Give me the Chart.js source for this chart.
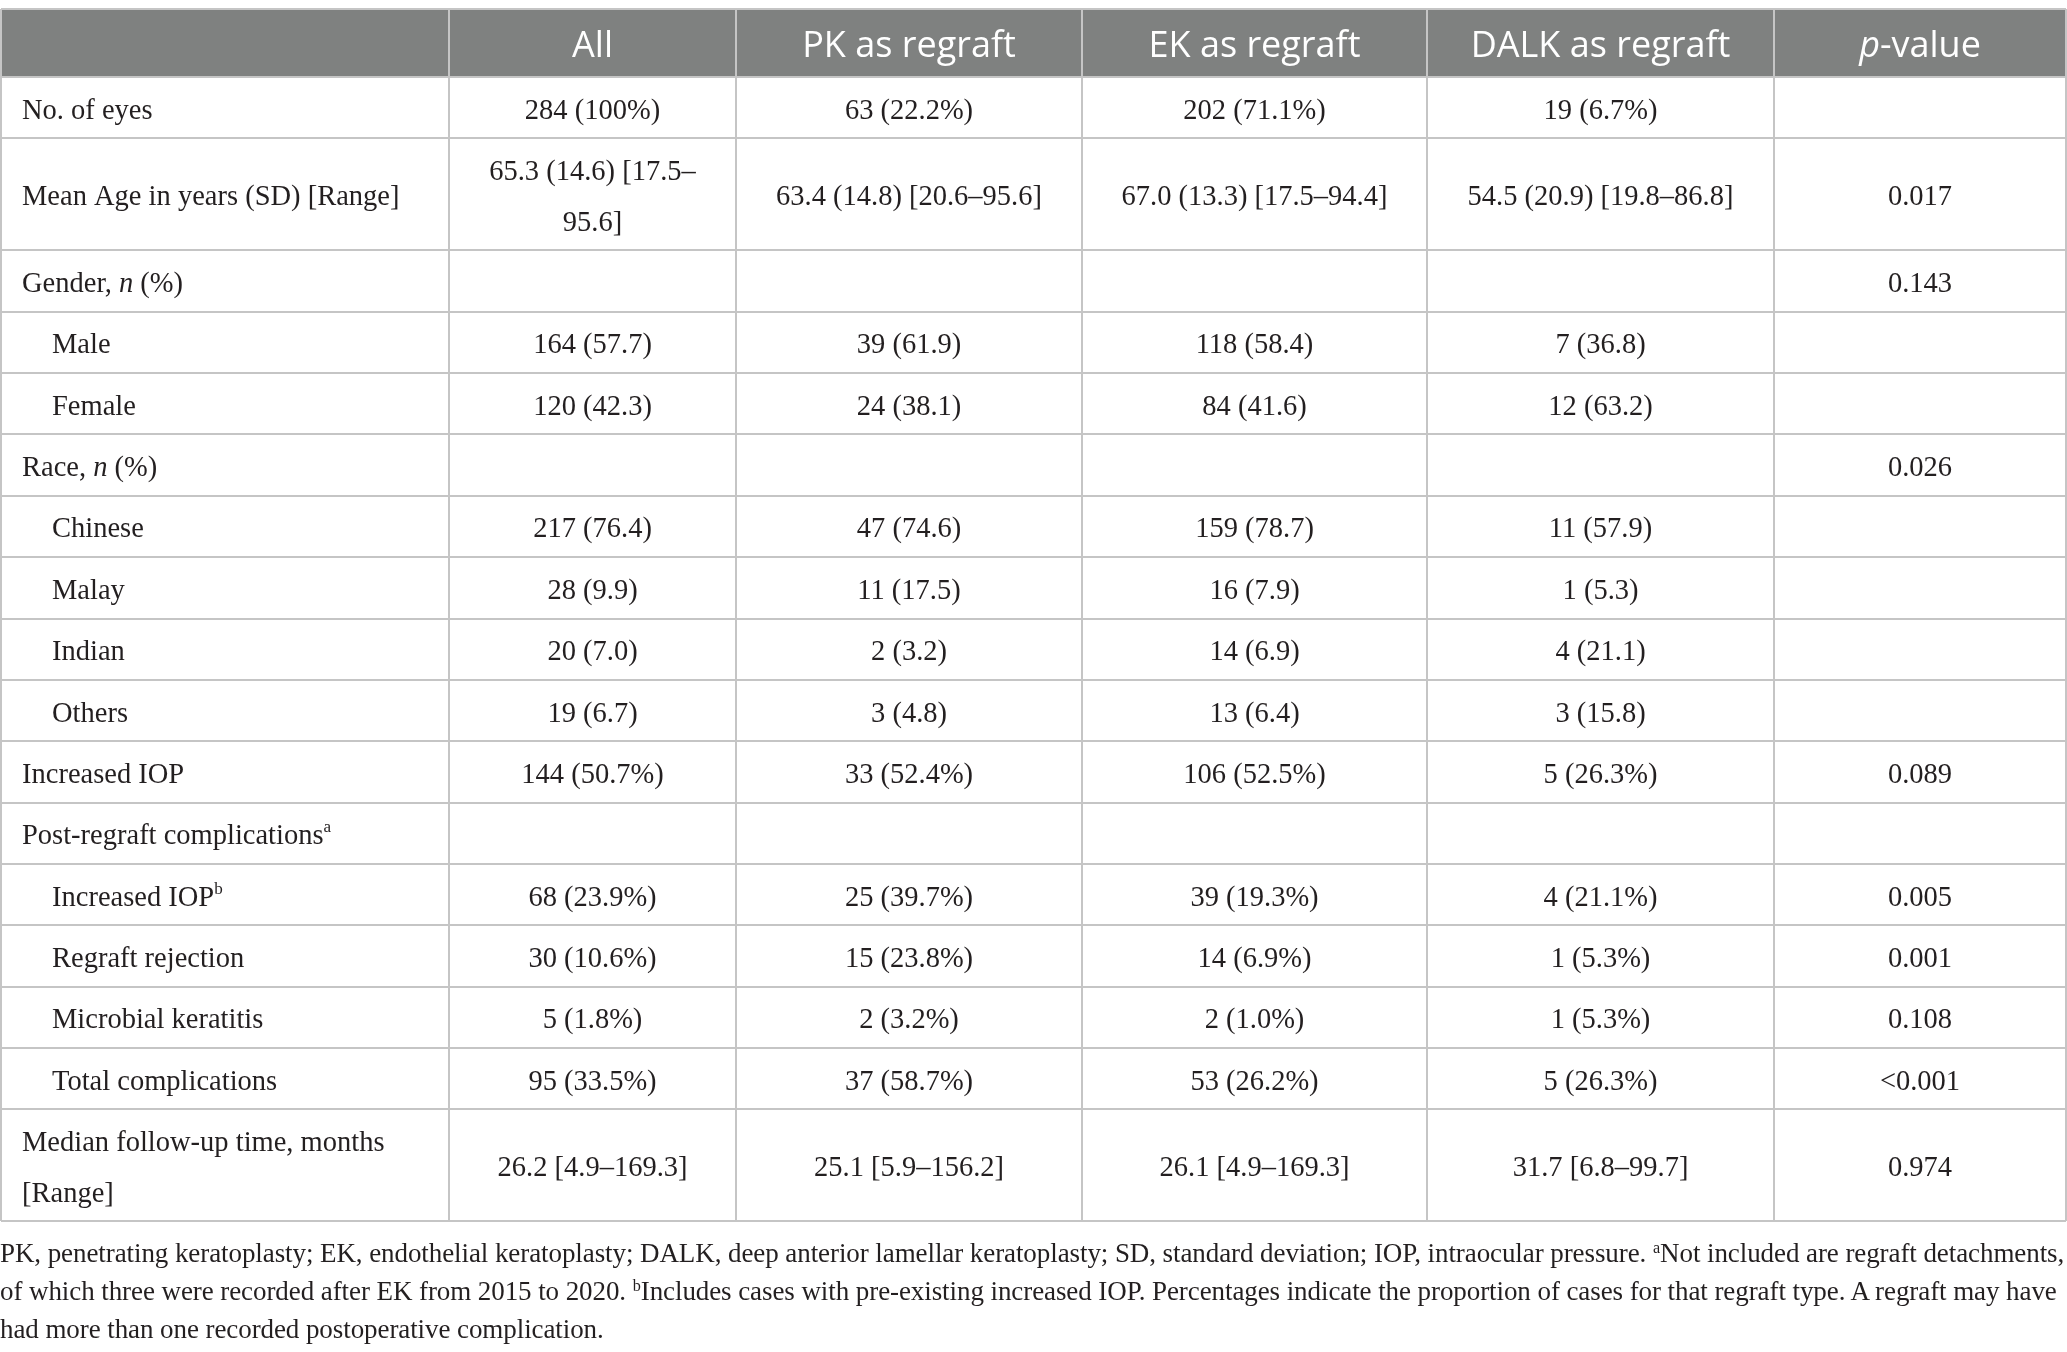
<!DOCTYPE html>
<html>
<head>
<meta charset="utf-8">
<title>Regraft characteristics</title>
<script src="https://cdn.jsdelivr.net/npm/chart.js@4.4.0/dist/chart.umd.min.js"></script>
<style>
    html, body { margin: 0; padding: 0; background: #fff; }
    #wrap { position: relative; width: 2067px; height: 1352px; overflow: hidden; }
    #tableChart { position: absolute; left: 0; top: 0; }
    #notes {
        position: absolute; left: 0; top: 1234px; width: 2067px;
        font-family: 'Liberation Serif', serif; font-size: 27px; line-height: 38px;
        letter-spacing: -0.08px; color: #231f20; white-space: nowrap;
    }
    #notes sup { font-size: 60%; line-height: 0; vertical-align: 0.55em; }
</style>
</head>
<body>
<div id="wrap">
    <canvas id="tableChart" width="2067" height="1352"></canvas>
    <div id="notes">
        PK, penetrating keratoplasty; EK, endothelial keratoplasty; DALK, deep anterior lamellar keratoplasty; SD, standard deviation; IOP, intraocular pressure. <sup>a</sup>Not included are regraft detachments,<br>
        of which three were recorded after EK from 2015 to 2020. <sup>b</sup>Includes cases with pre-existing increased IOP. Percentages indicate the proportion of cases for that regraft type. A regraft may have<br>
        had more than one recorded postoperative complication.
    </div>
</div>
<script>
// Table data (*x* = italic, ^x = superscript, \n = line break)
const colHeaders = ['', 'All', 'PK as regraft', 'EK as regraft', 'DALK as regraft', '*p*-value'];

const rowLabels = [
    'No. of eyes',
    'Mean Age in years (SD) [Range]',
    'Gender, *n* (%)',
    'Male',
    'Female',
    'Race, *n* (%)',
    'Chinese',
    'Malay',
    'Indian',
    'Others',
    'Increased IOP',
    'Post-regraft complications^a',
    'Increased IOP^b',
    'Regraft rejection',
    'Microbial keratitis',
    'Total complications',
    'Median follow-up time, months\n[Range]'
];

const subRows = [false, false, false, true, true, false, true, true, true, true, false, false, true, true, true, true, false];

const allValues = ['284 (100%)', '65.3 (14.6) [17.5–\n95.6]', '', '164 (57.7)', '120 (42.3)', '', '217 (76.4)', '28 (9.9)',
    '20 (7.0)', '19 (6.7)', '144 (50.7%)', '', '68 (23.9%)', '30 (10.6%)', '5 (1.8%)', '95 (33.5%)', '26.2 [4.9–169.3]'];
const pkValues = ['63 (22.2%)', '63.4 (14.8) [20.6–95.6]', '', '39 (61.9)', '24 (38.1)', '', '47 (74.6)', '11 (17.5)',
    '2 (3.2)', '3 (4.8)', '33 (52.4%)', '', '25 (39.7%)', '15 (23.8%)', '2 (3.2%)', '37 (58.7%)', '25.1 [5.9–156.2]'];
const ekValues = ['202 (71.1%)', '67.0 (13.3) [17.5–94.4]', '', '118 (58.4)', '84 (41.6)', '', '159 (78.7)', '16 (7.9)',
    '14 (6.9)', '13 (6.4)', '106 (52.5%)', '', '39 (19.3%)', '14 (6.9%)', '2 (1.0%)', '53 (26.2%)', '26.1 [4.9–169.3]'];
const dalkValues = ['19 (6.7%)', '54.5 (20.9) [19.8–86.8]', '', '7 (36.8)', '12 (63.2)', '', '11 (57.9)', '1 (5.3)',
    '4 (21.1)', '3 (15.8)', '5 (26.3%)', '', '4 (21.1%)', '1 (5.3%)', '1 (5.3%)', '5 (26.3%)', '31.7 [6.8–99.7]'];
const pValues = ['', '0.017', '0.143', '', '', '0.026', '', '', '', '', '0.089', '', '0.005', '0.001', '0.108', '<0.001', '0.974'];

// Layout
const colWidths = [448, 287, 346, 345, 347, 292];
const headerHeight = 68;
const lineRowHeight = 61.36;
const doubleRowHeight = 112;
const lineGap = 51;

const bodyFont = "'Liberation Serif', serif";
const headFont = "'Open Sans', sans-serif";
const bodySize = 28.5;
const headSize = 36;
const bodyShift = 3.5;
const headShift = 4;
const textColor = '#231f20';
const headerFill = '#7f8180';
const gridColor = '#c5c5c5';

function edges(sizes) {
    const out = [0];
    sizes.forEach(s => out.push(out[out.length - 1] + s));
    return out;
}

const rowHeights = [headerHeight].concat(rowLabels.map(l => l.includes('\n') ? doubleRowHeight : lineRowHeight));
rowHeights[2] = doubleRowHeight; // Mean age row wraps in the "All" column
const colEdges = edges(colWidths);
const rowEdges = edges(rowHeights);

function parseRich(str) {
    const out = [];
    str.split(/(\*[^*]+\*|\^[a-z])/).forEach(p => {
        if (!p) return;
        if (p[0] === '*') out.push({ t: p.slice(1, -1), italic: true });
        else if (p[0] === '^') out.push({ t: p.slice(1), sup: true });
        else out.push({ t: p });
    });
    return out;
}

function segFont(seg, family, size) {
    const s = seg.sup ? size * 0.6 : size;
    return (seg.italic ? 'italic ' : '') + s + 'px ' + family;
}

function drawRich(ctx, str, x, y, align, family, size, color) {
    const segs = parseRich(str);
    let total = 0;
    segs.forEach(seg => {
        ctx.font = segFont(seg, family, size);
        seg.w = ctx.measureText(seg.t).width;
        total += seg.w;
    });
    let cx = align === 'center' ? x - total / 2 : x;
    ctx.fillStyle = color;
    ctx.textAlign = 'left';
    ctx.textBaseline = 'middle';
    segs.forEach(seg => {
        ctx.font = segFont(seg, family, size);
        ctx.fillText(seg.t, cx, seg.sup ? y - size * 0.32 : y);
        cx += seg.w;
    });
}

function drawCell(ctx, str, x, y, align, family, size, color) {
    const lines = str.split('\n');
    const start = y - (lines.length - 1) * lineGap / 2;
    lines.forEach((line, i) => drawRich(ctx, line, x, start + i * lineGap, align, family, size, color));
}

const tablePlugin = {
    id: 'tableCells',
    beforeDraw(chart) {
        const { ctx, scales: { x, y } } = chart;
        ctx.save();
        ctx.fillStyle = headerFill;
        const top = y.getPixelForValue(rowEdges[0]);
        const bottom = y.getPixelForValue(rowEdges[1]);
        const left = x.getPixelForValue(colEdges[0]);
        const right = x.getPixelForValue(colEdges[colEdges.length - 1]);
        ctx.fillRect(left, top, right - left, bottom - top);
        ctx.restore();
    },
    afterDraw(chart) {
        const { ctx, scales: { x, y } } = chart;
        const columns = [rowLabels, allValues, pkValues, ekValues, dalkValues, pValues];
        ctx.save();
        // header
        const hy = y.getPixelForValue((rowEdges[0] + rowEdges[1]) / 2) + headShift;
        colHeaders.forEach((h, c) => {
            if (!h) return;
            const cx = x.getPixelForValue((colEdges[c] + colEdges[c + 1]) / 2);
            drawCell(ctx, h, cx, hy, 'center', headFont, headSize, '#ffffff');
        });
        // body
        rowLabels.forEach((label, r) => {
            const cy = y.getPixelForValue((rowEdges[r + 1] + rowEdges[r + 2]) / 2) + bodyShift;
            columns.forEach((col, c) => {
                const txt = col[r];
                if (!txt) return;
                if (c === 0) {
                    const lx = x.getPixelForValue(colEdges[0] + (subRows[r] ? 51 : 21));
                    drawCell(ctx, txt, lx, cy, 'left', bodyFont, bodySize, textColor);
                } else {
                    const cx = x.getPixelForValue((colEdges[c] + colEdges[c + 1]) / 2);
                    drawCell(ctx, txt, cx, cy, 'center', bodyFont, bodySize, textColor);
                }
            });
        });
        ctx.restore();
    }
};

function gridAxis(edgeList, reverse) {
    return {
        type: 'linear',
        reverse: reverse,
        min: edgeList[0],
        max: edgeList[edgeList.length - 1],
        afterBuildTicks: scale => { scale.ticks = edgeList.map(v => ({ value: v })); },
        ticks: { display: false },
        grid: { color: gridColor, lineWidth: 2, drawTicks: false },
        border: { display: false }
    };
}

new Chart(document.getElementById('tableChart'), {
    type: 'scatter',
    data: { datasets: [] },
    options: {
        responsive: false,
        devicePixelRatio: 1,
        animation: false,
        layout: { padding: { left: 1, right: 1, top: 9, bottom: 1352 - 9 - rowEdges[rowEdges.length - 1] } },
        plugins: { legend: { display: false }, tooltip: { enabled: false } },
        scales: {
            x: gridAxis(colEdges, false),
            y: gridAxis(rowEdges, true)
        }
    },
    plugins: [tablePlugin]
});
</script>
</body>
</html>
